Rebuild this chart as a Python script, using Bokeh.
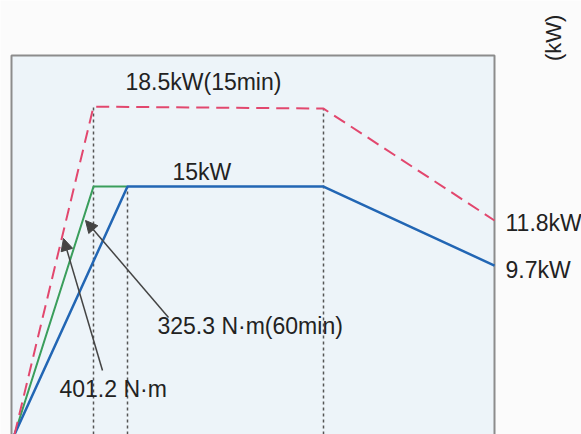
import math
from bokeh.plotting import figure
from bokeh.models import Label, Arrow, NormalHead
from bokeh.embed import file_html
from bokeh.resources import INLINE

# Schematic power curves (speed in arbitrary units, power in drawn kW-like units)
red_speed = [0, 790, 3090, 4800]          # 15 min rating
red_power = [0.0, 19.84, 19.72, 12.95]
green_speed = [0, 790, 1130]
green_power = [0.0, 15.0, 15.0]
blue_speed = [0, 1130, 3090, 4800]         # continuous rating
blue_power = [0.0, 15.0, 15.0, 10.22]

guide_speed = [790, 1130, 3090]
guide_top = [19.84, 15.0, 19.72]

labels = ["18.5kW(15min)", "15kW", "11.8kW", "9.7kW", "325.3 N·m(60min)", "401.2 N·m"]
label_x = [1110, 1580, 4910, 4910, 1430, 450]
label_y = [21.35, 15.91, 12.82, 9.98, 6.54, 2.78]

arrow_tail_x = [880, 1540]
arrow_tail_y = [3.87, 7.08]
arrow_head_x = [490, 710]
arrow_head_y = [11.86, 12.95]

# chart panel extent
panel_x = [-30, 4800]
panel_y = [-1.0, 22.93]

FONT = "Liberation Sans"

p = figure(width=581, height=434, output_backend="svg", toolbar_location=None,
           x_range=(-140, 5670), y_range=(0, 26.26),
           min_border_left=0, min_border_right=0, min_border_top=0, min_border_bottom=0)
p.xaxis.visible = False
p.yaxis.visible = False
p.xgrid.visible = False
p.ygrid.visible = False
p.background_fill_color = "#fbfbfb"
p.border_fill_color = "#fbfbfb"
p.outline_line_color = None

p.quad(left=[panel_x[0]], right=[panel_x[1]], bottom=[panel_y[0]], top=[panel_y[1]],
       fill_color="#edf4f9", line_color="#8c8c8c", line_width=2)

p.segment(x0=guide_speed, y0=[0, 0, 0], x1=guide_speed, y1=guide_top,
          line_color="#555555", line_width=1.5, line_dash="3 3")

p.line(green_speed, green_power, line_color="#3a9e5c", line_width=2)
p.line(blue_speed, blue_power, line_color="#2266b4", line_width=2.5)
p.line(red_speed, red_power, line_color="#e2476e", line_width=2, line_dash="13 7")

for xt, yt, xh, yh in zip(arrow_tail_x, arrow_tail_y, arrow_head_x, arrow_head_y):
    p.add_layout(Arrow(x_start=xt, y_start=yt, x_end=xh, y_end=yh,
                       line_color="#444444", line_width=1.5,
                       end=NormalHead(size=12, fill_color="#444444", line_color="#444444")))

for t, x, y in zip(labels, label_x, label_y):
    p.add_layout(Label(x=x, y=y, text=t, text_font=FONT, text_font_size="23px",
                       text_color="#222222", text_baseline="alphabetic", text_align="left"))

p.add_layout(Label(x=5390, y=24.0, text="(kW)", text_font=FONT, text_font_size="22px",
                   text_color="#222222", angle=math.pi / 2, text_align="center",
                   text_baseline="middle"))

open("out.html", "w").write(file_html(p, INLINE))
